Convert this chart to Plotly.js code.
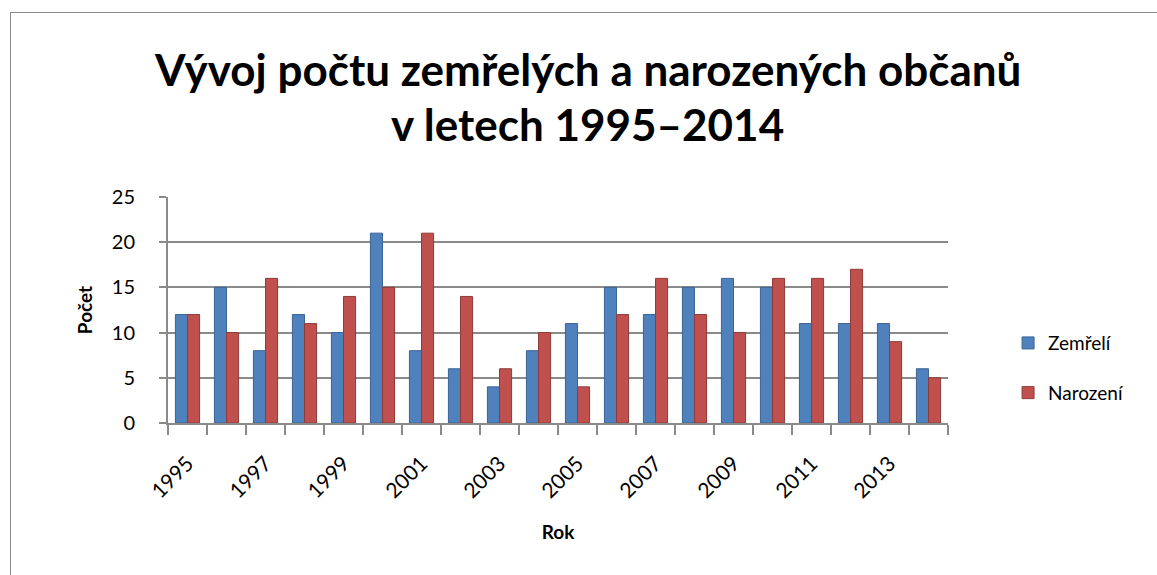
<!DOCTYPE html>
<html>
<head>
<meta charset="utf-8">
<script src="https://cdn.plot.ly/plotly-3.0.1.min.js"></script>
<style>
body{margin:0;padding:0;background:#fff;}
#frame{position:absolute;left:10px;top:12px;width:1147px;height:563px;border-left:1px solid #8a8a8a;border-top:1px solid #8a8a8a;pointer-events:none;}
#chart{width:1157px;height:575px;}
</style>
</head>
<body>
<div id="chart"></div>
<div id="frame"></div>
<script>
const years = [1995,1996,1997,1998,1999,2000,2001,2002,2003,2004,2005,2006,2007,2008,2009,2010,2011,2012,2013,2014];
const zemreli = [12,15,8,12,10,21,8,6,4,8,11,15,12,15,16,15,11,11,11,6];
const narozeni = [12,10,16,11,14,15,21,14,6,10,4,12,16,12,10,16,16,17,9,5];
const labelYears = [1995,1997,1999,2001,2003,2005,2007,2009,2011,2013];
const titleLine1 = 'Vývoj počtu zemřelých a narozených občanů';
const titleLine2 = 'v letech 1995–2014';

const font = "Lato, 'Open Sans', sans-serif";

const traces = [
  {type:'bar', name:'Zemřelí', x:years, y:zemreli, legendgroup:'a',
   marker:{color:'#4F81BD', line:{color:'#3A6596', width:1}}},
  {type:'bar', name:'Narození', x:years, y:narozeni, legendgroup:'b',
   marker:{color:'#C0504D', line:{color:'#8F3B39', width:1}}}
];

const layout = {
  width:1157, height:575,
  paper_bgcolor:'#fff', plot_bgcolor:'#fff',
  margin:{l:168, r:209, t:197, b:152},
  barmode:'group', bargap:0.38, bargroupgap:0,
  font:{family:font, color:'#000'},
  annotations:[
    {text:'<b>'+titleLine1+'</b>', xref:'paper', yref:'paper', x:0.538, y:1.565,
     xanchor:'center', yanchor:'middle', showarrow:false, font:{family:font, size:44, color:'#000'}},
    {text:'<b>'+titleLine2+'</b>', xref:'paper', yref:'paper', x:0.538, y:1.325,
     xanchor:'center', yanchor:'middle', showarrow:false, font:{family:font, size:44, color:'#000'}}
  ],
  xaxis:{
    range:[1994.5, 2014.5], tickvals:labelYears, ticktext:labelYears.map(String),
    tickangle:-45, ticks:'', ticklabelstandoff:18, tickfont:{size:21, family:font},
    showgrid:false, showline:true, linecolor:'#8a8a8a', linewidth:2,
    minor:{tick0:1994.5, dtick:1, ticks:'outside', ticklen:10, tickcolor:'#8a8a8a', tickwidth:2, showgrid:false},
    title:{text:'<b>Rok</b>', font:{size:19, family:font}, standoff:24}
  },
  yaxis:{
    range:[0,25], dtick:5, tickfont:{size:20, family:font},
    showgrid:true, gridcolor:'#8a8a8a', gridwidth:2,
    showline:true, linecolor:'#8a8a8a', linewidth:2,
    ticks:'outside', ticklen:7, tickcolor:'#8a8a8a', tickwidth:2, ticklabelstandoff:20,
    zeroline:false,
    title:{text:'<b>Počet</b>', font:{size:19, family:font}, standoff:14}
  },
  legend:{x:1.077, y:0.243, xanchor:'left', yanchor:'middle', font:{size:19, family:font},
          tracegroupgap:22, traceorder:'grouped', bgcolor:'rgba(0,0,0,0)'},
  showlegend:true
};

Plotly.newPlot('chart', traces, layout, {displayModeBar:false, staticPlot:true});
</script>
</body>
</html>
